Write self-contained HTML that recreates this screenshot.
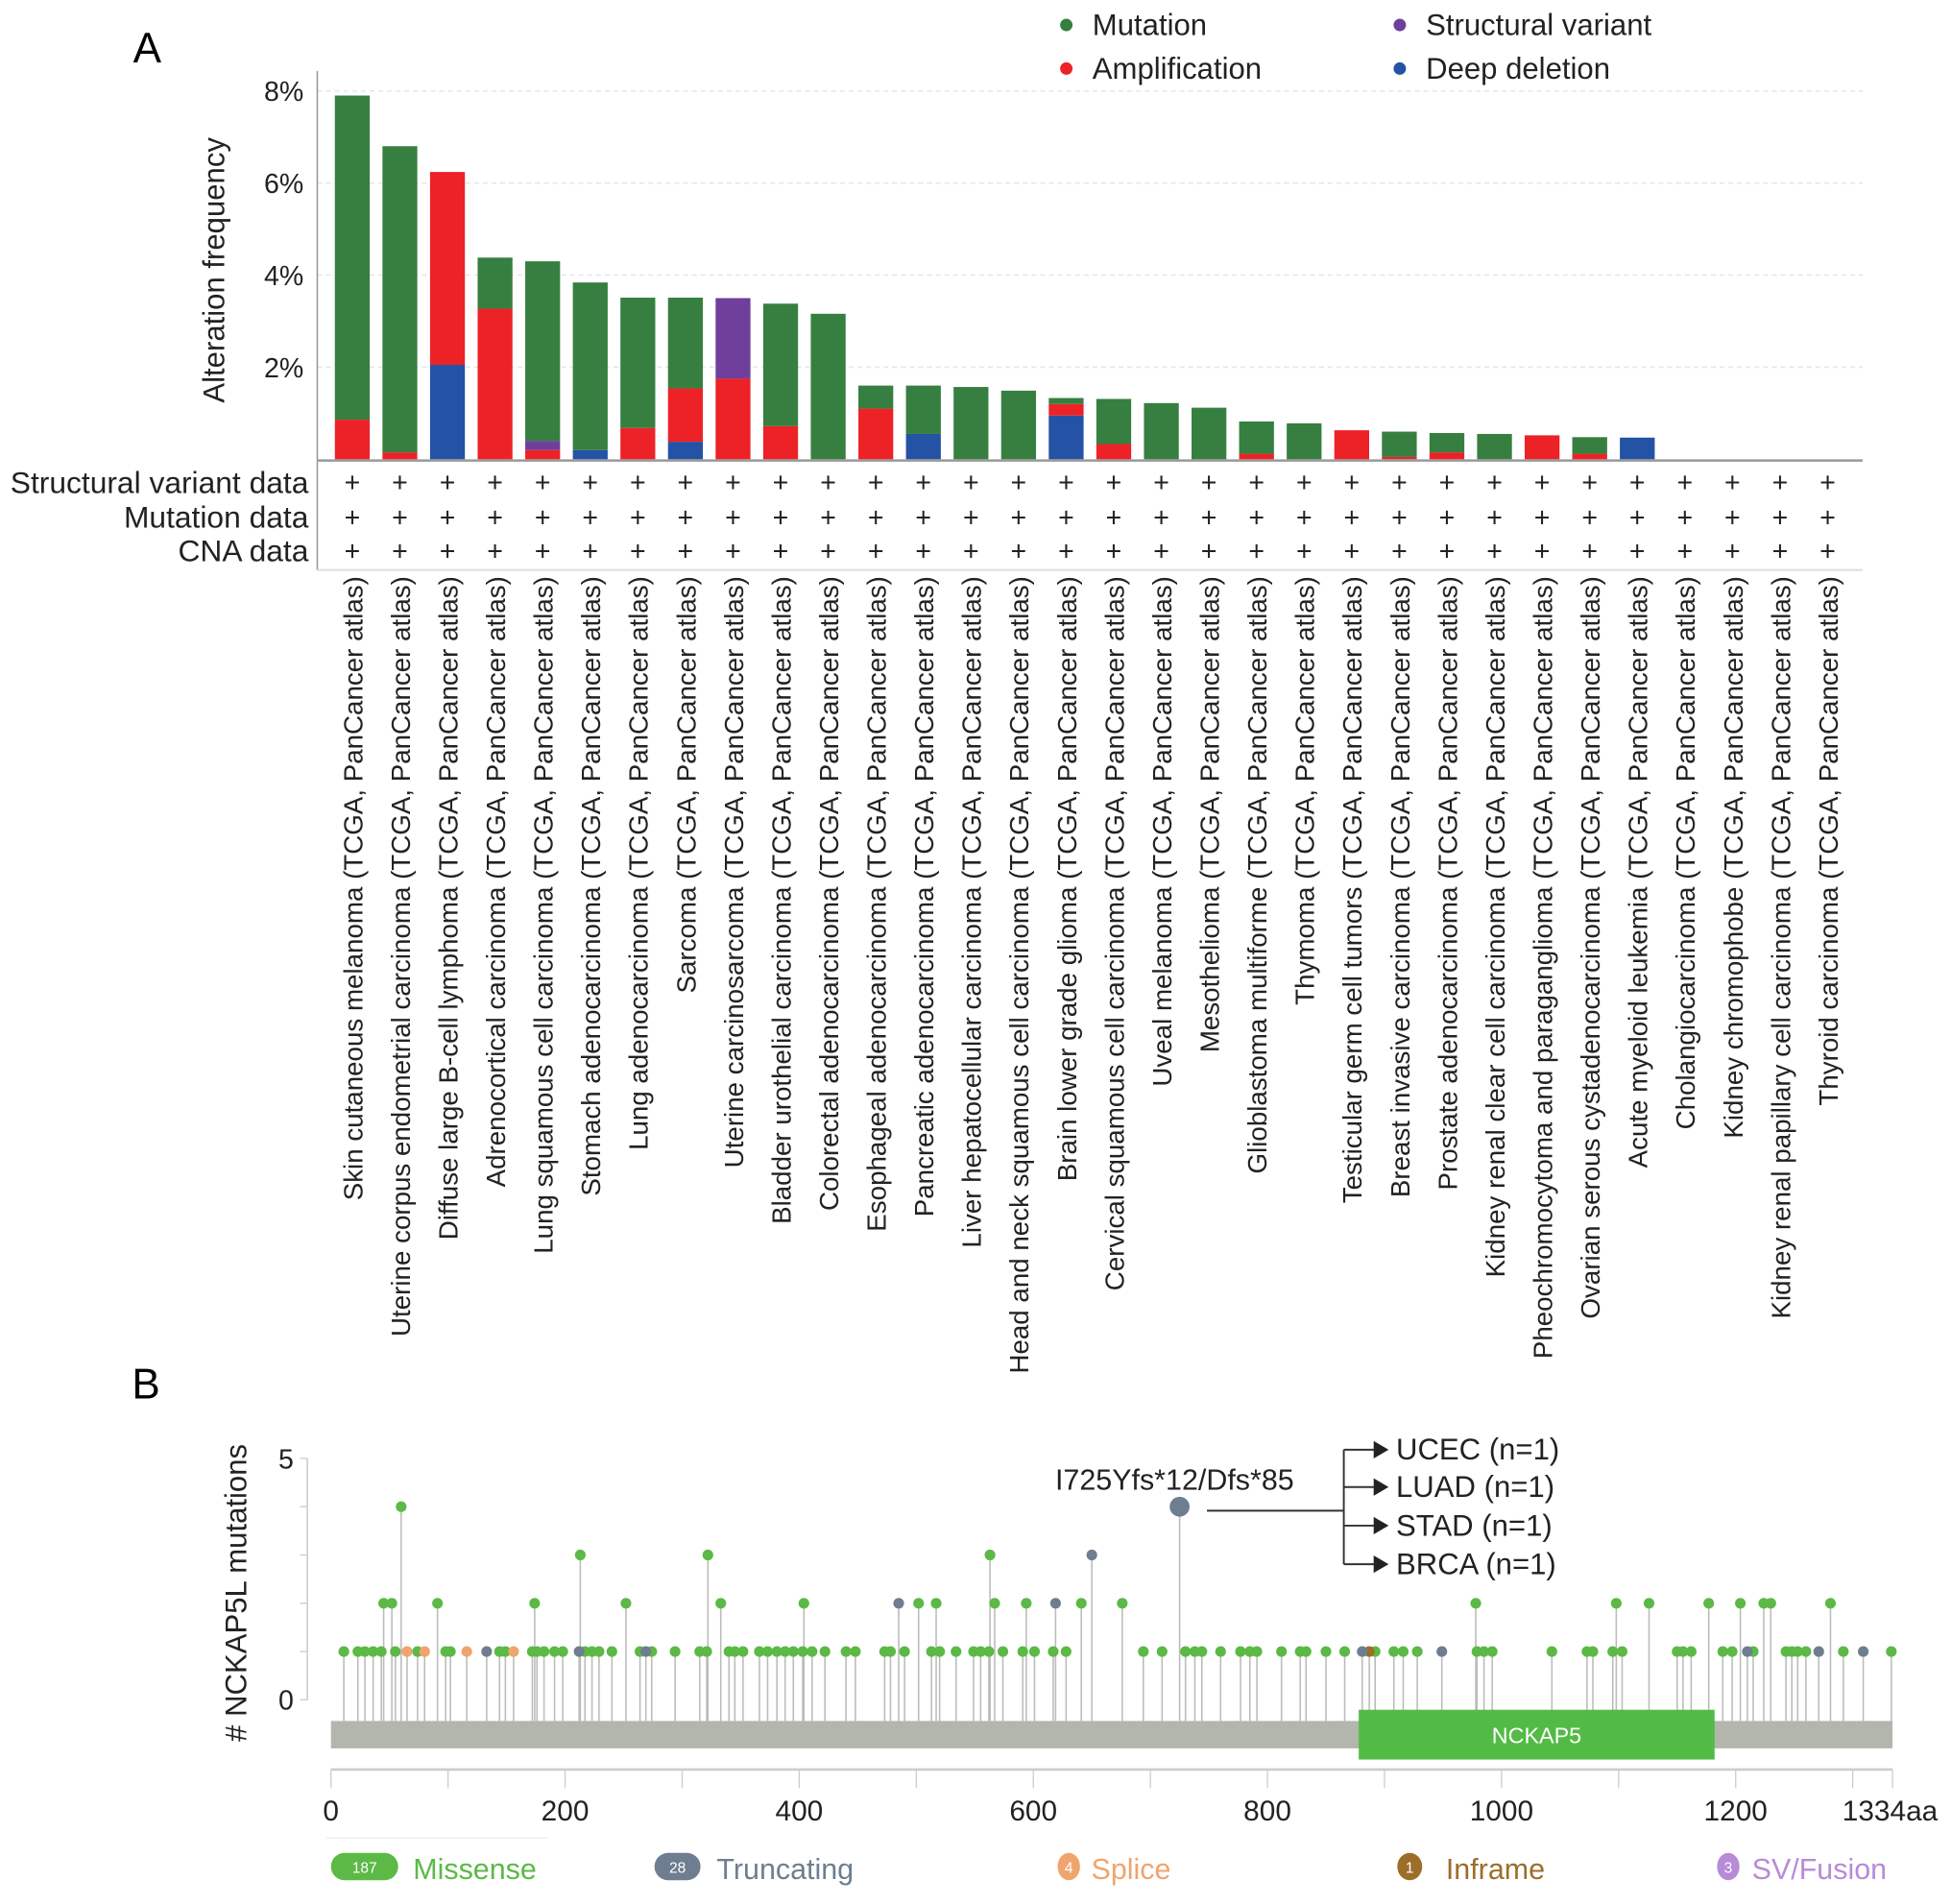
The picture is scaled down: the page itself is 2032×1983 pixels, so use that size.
<!DOCTYPE html>
<html><head><meta charset="utf-8"><style>
html,body{margin:0;padding:0;background:#fff;}
svg{display:block;font-family:"Liberation Sans",sans-serif;}
</style></head><body>
<svg id="fig" width="2032" height="1983" viewBox="0 0 1568 1530" xmlns="http://www.w3.org/2000/svg">
<g id="A"></g>
<g id="B"></g>
</svg>
<script>
// ---------- Panel A data ----------
const categories = ["Skin cutaneous melanoma","Uterine corpus endometrial carcinoma","Diffuse large B-cell lymphoma","Adrenocortical carcinoma","Lung squamous cell carcinoma","Stomach adenocarcinoma","Lung adenocarcinoma","Sarcoma","Uterine carcinosarcoma","Bladder urothelial carcinoma","Colorectal adenocarcinoma","Esophageal adenocarcinoma","Pancreatic adenocarcinoma","Liver hepatocellular carcinoma","Head and neck squamous cell carcinoma","Brain lower grade glioma","Cervical squamous cell carcinoma","Uveal melanoma","Mesothelioma","Glioblastoma multiforme","Thymoma","Testicular germ cell tumors","Breast invasive carcinoma","Prostate adenocarcinoma","Kidney renal clear cell carcinoma","Pheochromocytoma and paraganglioma","Ovarian serous cystadenocarcinoma","Acute myeloid leukemia","Cholangiocarcinoma","Kidney chromophobe","Kidney renal papillary cell carcinoma","Thyroid carcinoma"];
const deepDeletion = [0,0,2.05,0,0,0.2,0,0.38,0,0,0,0,0.55,0,0,0.95,0,0,0,0,0,0,0,0,0,0,0,0.47,0,0,0,0];
const amplification = [0.86,0.15,4.19,3.27,0.2,0,0.68,1.16,1.75,0.72,0,1.1,0,0,0,0.25,0.33,0,0,0.12,0,0.63,0.05,0.15,0,0.52,0.12,0,0,0,0,0];
const structuralVariant = [0,0,0,0,0.2,0,0,0,1.75,0,0,0,0,0,0,0,0,0,0,0,0,0,0,0,0,0,0,0,0,0,0,0];
const mutation = [7.04,6.65,0,1.11,3.9,3.64,2.83,1.97,0,2.66,3.16,0.5,1.05,1.57,1.49,0.13,0.98,1.22,1.12,0.7,0.78,0,0.55,0.42,0.55,0,0.36,0,0,0,0,0];
const yTicks = [2,4,6,8];
const rowLabels = ["Structural variant data","Mutation data","CNA data"];

// ---------- Panel B data ----------
const missenseAA = [11,23,29,36,43,55,74,98,102,144,149,172,176,182,191,198,217,223,229,240,264,274,294,315,321,340,345,352,366,373,381,388,395,403,411,422,440,448,473,478,490,513,520,534,549,555,562,574,591,601,617,628,694,710,730,738,744,760,777,785,791,812,828,833,850,866,892,908,916,928,979,985,992,1043,1073,1078,1095,1103,1150,1155,1162,1189,1197,1215,1243,1248,1253,1260,1292,1333,
 45,52,91,174,252,333,404,502,517,567,594,641,676,978,1098,1126,1177,1204,1224,1230,1281,
 213,322,563, 60];
const missenseCount = [1,1,1,1,1,1,1,1,1,1,1,1,1,1,1,1,1,1,1,1,1,1,1,1,1,1,1,1,1,1,1,1,1,1,1,1,1,1,1,1,1,1,1,1,1,1,1,1,1,1,1,1,1,1,1,1,1,1,1,1,1,1,1,1,1,1,1,1,1,1,1,1,1,1,1,1,1,1,1,1,1,1,1,1,1,1,1,1,1,1,
 2,2,2,2,2,2,2,2,2,2,2,2,2,2,2,2,2,2,2,2,2,
 3,3,3, 4];
const truncAA = [133,212,269,881,949,1210,1271,1309,485,619,650,725];
const truncCount = [1,1,1,1,1,1,1,1,2,2,3,4];
const spliceAA = [65,80,116,156];
const spliceCount = [1,1,1,1];
const inframeAA = [887];
const inframeCount = [1];
const xTicksAA = [0,200,400,600,800,1000,1200];
const proteinLength = 1334;
const domainStart = 878, domainEnd = 1182;

const NS = "http://www.w3.org/2000/svg";
function mk(parent, tag, attrs, text){
  const e = document.createElementNS(NS, tag);
  for (const k in attrs) e.setAttribute(k, attrs[k]);
  if (text !== undefined) e.textContent = text;
  parent.appendChild(e); return e;
}
const A = document.getElementById("A");
const B = document.getElementById("B");

// ---------- Panel A ----------
const axL = 255, axR = 1497, y0 = 369, pxPer = 37;
const yA = v => y0 - v * pxPer;
const step = (1488 - 264) / categories.length;
const xA = i => 264 + step * (i + 0.5);
const barW = 28;

let t = mk(A, "text", {x:107, y:50, "font-size":34}, "A");
 

yTicks.forEach(v => {
  const g = mk(A, "line", {x1:axL, x2:axR, y1:yA(v), y2:yA(v), stroke:"#e6e6e6", "stroke-width":1.2, "stroke-dasharray":"4 3"});
   
  const tl = mk(A, "text", {x:244, y:yA(v)+8, "font-size":22, "text-anchor":"end", fill:"#222"}, v + "%");
   
});
let ax = mk(A, "line", {x1:axL, x2:axL, y1:57, y2:458, stroke:"#999", "stroke-width":1.2});
 
let yt = mk(A, "text", {transform:"translate(180,217) rotate(-90)", "font-size":24, "text-anchor":"middle", fill:"#222"}, "Alteration frequency");
 

const series = [[deepDeletion,"#2452a5","deep-deletion"],[amplification,"#ec2227","amplification"],[structuralVariant,"#6f3f9b","structural-variant"],[mutation,"#367f40","mutation"]];
categories.forEach((c, i) => {
  let base = 0;
  series.forEach(([arr, col, nm]) => {
    const v = arr[i];
    if (v > 0) {
      const r = mk(A, "rect", {x:xA(i)-barW/2, y:yA(base+v), width:barW, height:v*pxPer, fill:col});
      
      
      base += v;
    }
  });
  [388,416,443].forEach(py => {
    const p = mk(A, "text", {x:xA(i), y:py+7, "font-size":22, "text-anchor":"middle", fill:"#222"}, "+");
    
    
  });
  const l = mk(A, "text", {transform:`translate(${xA(i)+8},463) rotate(-90)`, "font-size":21.4, "text-anchor":"end", fill:"#222"}, c + " (TCGA, PanCancer atlas)");
  
  
});
let bl = mk(A, "line", {x1:axL, x2:axR, y1:y0+1, y2:y0+1, stroke:"#999", "stroke-width":2});
 
let bl2 = mk(A, "line", {x1:axL, x2:axR, y1:458, y2:458, stroke:"#ddd", "stroke-width":1.5});
 
rowLabels.forEach((r, k) => {
  const e = mk(A, "text", {x:248, y:[388,416,443][k]+8, "font-size":24.5, "text-anchor":"end", fill:"#222"}, r);
   
});
[["Mutation","#367f40",857,20],["Amplification","#ec2227",857,55],["Structural variant","#6f3f9b",1125,20],["Deep deletion","#2452a5",1125,55]].forEach(([n,c,x,y]) => {
  const g = mk(A, "g", {});
   
  mk(g, "circle", {cx:x, cy:y, r:5, fill:c});
  mk(g, "text", {x:x+21, y:y+8, "font-size":24, fill:"#222"}, n);
});

// ---------- Panel B ----------
const xL = 266, xR = 1521, bz = 1366, perC = 38.8;
const xB = aa => xL + aa * (xR - xL) / proteinLength;
const yB = c => bz - c * perC;

t = mk(B, "text", {x:106, y:1124, "font-size":34}, "B");
 
let ya = mk(B, "line", {x1:247, x2:247, y1:1172, y2:1366, stroke:"#ccc", "stroke-width":1.2});
 
[0,1,2,3,4,5].forEach(c => { mk(B, "line", {x1:241, x2:247, y1:yB(c), y2:yB(c), stroke:"#ccc"}); });
[[0,"0"],[5,"5"]].forEach(([c,s]) => {
  const e = mk(B, "text", {x:236, y:yB(c)+8, "font-size":22, "text-anchor":"end", fill:"#222"}, s);
   
});
yt = mk(B, "text", {transform:"translate(198,1280) rotate(-90)", "font-size":24, "text-anchor":"middle", fill:"#222"}, "# NCKAP5L mutations");
 

const all = [[missenseAA,missenseCount,"#5cb946","missense"],[spliceAA,spliceCount,"#f0a46e","splice"],[inframeAA,inframeCount,"#9c6e2a","inframe"],[truncAA,truncCount,"#6e7e90","truncating"]];
all.forEach(([aas,cs,col,nm]) => aas.forEach((aa,i) => {
  const s = mk(B, "line", {x1:xB(aa), x2:xB(aa), y1:1383, y2:yB(cs[i]), stroke:"#bbb", "stroke-width":1.2});
   
}));
all.forEach(([aas,cs,col,nm]) => aas.forEach((aa,i) => {
  const big = (nm === "truncating" && cs[i] === 4);
  const d = mk(B, "circle", {cx:xB(aa), cy:yB(cs[i]), r: big ? 8 : 4.3, fill:col});
  
  
}));
let pb = mk(B, "rect", {x:xL, y:1383, width:xR-xL, height:22, fill:"#b2b6ad"});
 
let dm = mk(B, "rect", {x:xB(domainStart), y:1374, width:xB(domainEnd)-xB(domainStart), height:40, fill:"#52bb45"});
 
let dt = mk(B, "text", {x:(xB(domainStart)+xB(domainEnd))/2, y:1401, "font-size":18, "text-anchor":"middle", fill:"#fff"}, "NCKAP5");
 

let xa = mk(B, "line", {x1:xL, x2:xR, y1:1422, y2:1422, stroke:"#ccc", "stroke-width":2});
 
for (let aa = 0; aa <= 1300; aa += 100) mk(B, "line", {x1:xB(aa), x2:xB(aa), y1:1422, y2:1437, stroke:"#ccc"});
mk(B, "line", {x1:xR, x2:xR, y1:1422, y2:1437, stroke:"#ccc"});
xTicksAA.forEach(aa => {
  const e = mk(B, "text", {x:xB(aa), y:1463, "font-size":23, "text-anchor":"middle", fill:"#222"}, String(aa));
   
});
let e2 = mk(B, "text", {x:xB(proteinLength)-2, y:1463, "font-size":23, "text-anchor":"middle", fill:"#222"}, proteinLength + "aa");
 

// annotation
const ann = mk(B, "g", {});
 
mk(ann, "text", {x:944, y:1197, "font-size":23.5, "text-anchor":"middle", fill:"#222"}, "I725Yfs*12/Dfs*85");
mk(ann, "line", {x1:970, x2:1080, y1:1214, y2:1214, stroke:"#333", "stroke-width":1.5});
mk(ann, "line", {x1:1080, x2:1080, y1:1165, y2:1257, stroke:"#333", "stroke-width":1.5});
[["UCEC (n=1)",1165],["LUAD (n=1)",1195],["STAD (n=1)",1226],["BRCA (n=1)",1257]].forEach(([s,y]) => {
  mk(ann, "line", {x1:1080, x2:1108, y1:y, y2:y, stroke:"#333", "stroke-width":1.5});
  mk(ann, "path", {d:`M1104 ${y-7} L1116 ${y} L1104 ${y+7} Z`, fill:"#222"});
  mk(ann, "text", {x:1122, y:y+8, "font-size":24, fill:"#222"}, s);
});

// legend B
const lg = [["187","Missense","#5cb946",266,320,332],["28","Truncating","#6e7e90",526,563,576],["4","Splice","#f0a46e",850,868,877],["1","Inframe","#9c6e2a",1123,1143,1162],["3","SV/Fusion","#b88bd6",1380,1398,1408]];
lg.forEach(([n,s,c,x1,x2,tx]) => {
  const g = mk(B, "g", {});
   
  const w = x2 - x1, h = 22;
  mk(g, "rect", {x:x1, y:1489, width:w, height:h, rx:h/2, fill:c});
  mk(g, "text", {x:(x1+x2)/2, y:1505, "font-size":12, "text-anchor":"middle", fill:"#fff"}, n);
  mk(g, "text", {x:tx, y:1510, "font-size":23.5, fill:c}, s);
});
mk(B, "line", {x1:262, x2:440, y1:1477, y2:1477, stroke:"#eee"});
</script>
</body></html>
